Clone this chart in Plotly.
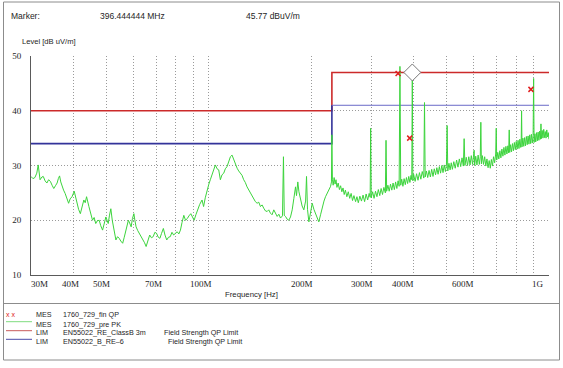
import math
import plotly.graph_objects as go

# ---------------- data ----------------
marker_freq_mhz = 396.444444
marker_level_db = 45.77
marker_diamond_level_db = 47.0

# final QP measurements (red x)
qp_freq_mhz = [360.0, 389.5, 885.0]
qp_level_db = [46.8, 35.0, 43.9]

# limit lines
limit_freq_mhz = [30, 230, 230, 1000]
limit_classb_db = [40, 40, 47, 47]
limit_b6_low_freq_mhz = [30, 230, 230]
limit_b6_low_db = [34, 34, 41]
limit_b6_high_freq_mhz = [230, 1000]
limit_b6_high_db = [41, 41]

# axis ticks / grid
grid_freq_mhz = [30, 40, 50, 60, 70, 80, 90, 100, 200, 300, 400, 500, 600, 700, 800, 900, 1000]
tick_freq_mhz = [30, 40, 50, 70, 100, 200, 300, 400, 600, 1000]
tick_text = ["30M", "40M", "50M", "70M", "100M", "200M", "300M", "400M", "600M", "1G"]
level_ticks_db = [10, 20, 30, 40, 50]

# peak scan (MHz, dBuV/m) 30 - 230 MHz
pk_scan_low = [
    (30.0, 28.0), (30.4, 27.6), (30.8, 27.8), (31.2, 28.6), (31.5, 30.1), (31.9, 27.4),
    (32.3, 27.9), (32.6, 28.0), (33.0, 27.2), (33.4, 26.8), (33.8, 27.4), (34.2, 27.1),
    (34.6, 26.4), (35.0, 25.8), (35.4, 26.3), (35.8, 26.8), (36.1, 27.6), (36.4, 28.1),
    (36.7, 27.0), (37.0, 26.2), (37.4, 25.5), (37.8, 24.9), (38.2, 24.0), (38.7, 23.1),
    (39.1, 23.9), (39.6, 24.3), (40.2, 25.3), (40.6, 24.0), (41.0, 22.8), (41.4, 22.0),
    (41.9, 21.2), (42.4, 22.6), (42.9, 23.7), (43.3, 23.2), (43.7, 24.3), (44.4, 22.5),
    (45.0, 21.3), (45.5, 20.0), (46.0, 20.5), (46.5, 19.4), (47.0, 19.9), (47.6, 20.0),
    (48.1, 19.0), (48.7, 18.2), (49.2, 19.3), (49.8, 20.6), (50.2, 20.0), (50.6, 19.4),
    (51.0, 20.8), (51.5, 22.1), (52.0, 20.0), (52.5, 18.8), (52.9, 17.4), (53.3, 16.4),
    (53.9, 17.0), (54.5, 16.7), (55.1, 16.2), (55.8, 15.8), (56.4, 16.9), (57.1, 18.2),
    (57.5, 19.4), (58.0, 20.0), (58.5, 19.5), (59.1, 18.8), (59.6, 20.3), (60.2, 21.2),
    (60.6, 20.0), (61.1, 18.8), (61.8, 18.1), (62.5, 17.6), (63.2, 17.0), (64.0, 16.4),
    (64.7, 15.9), (65.4, 15.2), (66.2, 16.3), (67.0, 17.3), (67.8, 16.8), (68.6, 17.0),
    (69.4, 17.8), (70.2, 17.6), (71.0, 16.9), (71.8, 16.7), (72.6, 17.6), (73.5, 18.5),
    (74.3, 17.3), (75.2, 16.4), (76.1, 16.9), (77.0, 17.0), (77.9, 17.8), (78.8, 17.3),
    (79.7, 17.6), (80.7, 17.9), (81.6, 17.5), (82.5, 18.2), (83.4, 19.6), (84.4, 20.9),
    (85.4, 20.0), (86.4, 20.3), (87.4, 20.8), (88.5, 21.2), (89.5, 20.6), (90.5, 20.0),
    (91.6, 21.0), (92.7, 22.1), (94.0, 22.9), (95.5, 23.7), (96.5, 22.5), (97.6, 24.1),
    (98.8, 25.5), (100.0, 26.6), (101.0, 27.4), (102.7, 28.6), (104.5, 30.1), (105.7, 29.4),
    (106.9, 29.2), (108.1, 27.4), (109.3, 28.3), (110.6, 28.6), (111.8, 29.4), (113.1, 29.8),
    (114.4, 30.8), (115.7, 31.6), (117.0, 31.9), (118.3, 31.0), (119.7, 30.4), (121.1, 29.5),
    (122.4, 29.0), (123.8, 28.6), (125.2, 28.2), (126.6, 27.4), (128.0, 26.9), (129.5, 26.1),
    (131.0, 25.5), (132.5, 24.9), (134.0, 24.3), (135.5, 24.0), (137.0, 23.4), (138.6, 23.1),
    (140.2, 23.3), (141.8, 22.5), (143.4, 22.8), (145.0, 22.2), (146.7, 21.7), (148.4, 21.6),
    (150.0, 21.9), (151.7, 21.3), (153.4, 21.0), (155.2, 21.9), (157.0, 21.2), (158.8, 20.7),
    (160.6, 21.1), (162.4, 20.4), (164.6, 20.8), (165.7, 31.6), (166.6, 20.9), (168.0, 20.7),
    (169.9, 20.2), (171.8, 20.0), (173.8, 20.6), (175.8, 21.9), (177.8, 24.0), (179.8, 26.1),
    (181.0, 24.5), (182.6, 27.0), (184.0, 25.2), (186.0, 23.7), (188.0, 22.6), (190.2, 21.9),
    (192.5, 23.5), (193.7, 28.0), (195.0, 22.0), (196.8, 19.7), (199.0, 21.5), (201.3, 23.1),
    (203.6, 22.0), (205.9, 21.3), (208.2, 20.4), (210.5, 19.7), (213.0, 21.0), (215.5, 22.5),
    (218.0, 23.5), (220.3, 24.3), (222.8, 25.0), (225.3, 25.5), (228.0, 26.2), (229.3, 27.0),
    (230.0, 35.6),
]

# peak scan (MHz, dBuV/m) 230 - 1000 MHz
pk_scan_high = [
    (230.8, 27.5), (232.0, 26.4), (233.5, 27.8), (235.0, 26.6), (236.5, 27.4), (238.0, 26.0),
    (240.0, 26.8), (242.0, 25.6), (244.0, 26.3), (246.0, 25.2), (248.0, 25.9), (250.0, 24.7),
    (252.0, 25.5), (254.5, 24.3), (257.0, 25.2), (259.5, 24.0), (262.0, 24.9), (264.5, 23.6),
    (267.0, 24.5), (270.0, 23.4), (272.5, 24.3), (275.0, 23.2), (278.0, 24.4), (281.0, 23.5),
    (284.0, 24.6), (287.0, 23.4), (290.0, 24.8), (293.0, 23.7), (296.0, 24.9), (298.0, 24.2),
    (299.0, 36.8), (300.2, 24.1), (303.0, 25.2), (306.0, 24.0), (309.0, 25.3), (312.0, 24.3),
    (315.0, 25.6), (318.0, 24.5), (321.0, 25.8), (324.0, 24.7), (327.0, 26.0), (330.3, 25.0),
    (331.8, 34.6), (333.2, 25.3), (336.0, 26.4), (339.0, 25.3), (342.0, 26.6), (345.0, 25.5),
    (348.0, 26.8), (351.0, 25.6), (354.0, 27.0), (357.0, 25.8), (360.0, 27.2), (362.6, 26.2),
    (364.6, 48.1), (366.5, 26.4), (369.0, 27.5), (372.0, 26.2), (375.0, 27.6), (378.0, 26.5),
    (381.0, 27.8), (384.0, 26.7), (387.0, 28.0), (390.0, 26.9), (393.0, 28.2), (395.0, 27.4),
    (396.4, 46.6), (397.8, 27.2), (400.0, 28.4), (404.0, 27.1), (408.0, 28.5), (412.0, 27.3),
    (416.0, 28.7), (420.0, 27.5), (424.0, 28.9), (428.5, 27.7), (430.5, 41.5), (432.5, 27.9),
    (436.0, 29.0), (440.0, 27.8), (444.0, 29.1), (448.0, 27.9), (452.0, 29.3), (456.0, 28.0),
    (460.0, 29.4), (464.0, 28.3), (468.0, 29.6), (472.0, 28.4), (476.0, 29.8), (480.0, 28.6),
    (484.0, 30.0), (488.0, 28.7), (492.0, 30.1), (496.0, 28.9), (499.5, 30.2), (501.8, 37.3),
    (504.0, 29.0), (508.0, 30.4), (512.0, 29.2), (516.0, 30.5), (520.0, 29.3), (525.0, 30.7),
    (530.0, 29.5), (535.0, 31.0), (540.0, 29.7), (545.0, 31.2), (550.0, 29.8), (555.0, 31.4),
    (560.0, 29.9), (563.0, 34.9), (566.0, 30.0), (571.0, 31.5), (576.0, 30.0), (581.0, 31.6),
    (586.0, 30.1), (591.0, 31.8), (596.0, 30.2), (600.3, 31.6), (602.4, 32.8), (604.5, 30.0),
    (609.0, 31.7), (614.0, 30.1), (619.0, 31.9), (624.0, 30.2), (628.0, 31.6), (630.4, 37.9),
    (632.8, 30.3), (637.0, 31.8), (642.0, 30.2), (647.0, 31.6), (652.0, 29.9), (657.0, 31.2),
    (662.0, 29.6), (667.0, 30.9), (672.0, 29.5), (677.0, 31.1), (682.0, 29.9), (687.0, 31.6),
    (692.0, 30.5), (697.0, 32.1), (699.6, 36.8), (702.0, 31.0), (707.0, 32.4), (712.0, 31.2),
    (717.0, 32.7), (722.0, 31.4), (727.0, 33.0), (732.0, 31.7), (737.0, 33.3), (742.0, 31.9),
    (747.0, 33.5), (752.0, 32.1), (757.0, 33.6), (761.0, 32.3), (763.9, 36.5), (766.5, 32.4),
    (771.0, 33.8), (776.0, 32.5), (781.0, 34.0), (786.0, 32.7), (791.0, 34.2), (796.0, 32.9),
    (801.0, 34.4), (806.0, 33.0), (811.0, 34.6), (816.0, 33.1), (821.0, 34.8), (826.0, 33.3),
    (828.5, 34.5), (830.6, 40.0), (833.0, 33.4), (838.0, 35.0), (843.0, 33.5), (848.0, 35.1),
    (853.0, 33.6), (858.0, 35.3), (863.0, 33.8), (868.0, 35.4), (873.0, 33.9), (878.0, 35.6),
    (883.0, 34.0), (888.0, 35.7), (893.0, 34.1), (898.0, 35.5), (901.2, 45.9), (904.0, 34.2),
    (909.0, 35.8), (914.0, 34.3), (919.0, 36.0), (924.0, 34.5), (929.0, 36.1), (934.0, 34.6),
    (939.0, 36.3), (944.0, 34.8), (947.0, 37.6), (950.0, 34.9), (955.0, 36.4), (960.0, 35.0),
    (965.0, 36.6), (970.0, 35.1), (975.0, 36.2), (980.0, 35.0), (985.0, 36.5), (990.0, 35.2),
    (995.0, 36.0), (1000.0, 34.8),
]

legend_rows = [
    ("MES", "1760_729_fin QP", ""),
    ("MES", "1760_729_pre PK", ""),
    ("LIM", "EN55022_RE_ClassB 3m", "Field Strength QP Limit"),
    ("LIM", "EN55022_B_RE\u20136", "Field Strength QP Limit"),
]

# ---------------- style ----------------
W, H = 563, 368
ML, MR, MT, MB = 31, 14, 56, 93
PW, PH = W - ML - MR, H - MT - MB
GREEN = "rgb(60,212,60)"
RED = "#cc2a2a"
BLUE = "#33339a"
BLUE_LIGHT = "#6a6ac8"
TXT = "#1e1e1e"
SANS = "Liberation Sans, Arial, sans-serif"
SERIF = "Liberation Serif, Times New Roman, serif"


def px(x):
    return (x - ML) / PW


def py(y):
    return (MT + PH - y) / PH


pk_all = pk_scan_low + pk_scan_high
pk_freq = [p[0] for p in pk_all]
pk_level = [p[1] for p in pk_all]

fig = go.Figure()
fig.add_trace(go.Scatter(x=limit_freq_mhz, y=limit_classb_db, mode="lines",
                         line=dict(color=RED, width=1.6), hoverinfo="skip"))
fig.add_trace(go.Scatter(x=limit_b6_low_freq_mhz, y=limit_b6_low_db, mode="lines",
                         line=dict(color=BLUE, width=1.6), hoverinfo="skip"))
fig.add_trace(go.Scatter(x=limit_b6_high_freq_mhz, y=limit_b6_high_db, mode="lines",
                         line=dict(color=BLUE_LIGHT, width=1), hoverinfo="skip"))
fig.add_trace(go.Scatter(x=pk_freq, y=pk_level, mode="lines",
                         line=dict(color=GREEN, width=1)))
fig.add_trace(go.Scatter(x=qp_freq_mhz, y=qp_level_db, mode="markers",
                         marker=dict(symbol="x-thin", size=5,
                                     line=dict(color="#e02020", width=1.5))))
fig.add_trace(go.Scatter(x=[marker_freq_mhz], y=[marker_diamond_level_db], mode="markers",
                         marker=dict(symbol="diamond", size=13, color="white",
                                     line=dict(color="#7a7a7a", width=1))))

grid_common = dict(showgrid=True, gridcolor="#9a9a9a", gridwidth=1, griddash="1px,2px",
                   zeroline=False, ticks="", showline=True, linecolor="#5a5a5a", linewidth=1)

fig.update_xaxes(type="log", range=[math.log10(30), math.log10(1000)],
                 tickmode="array", tickvals=grid_freq_mhz, showticklabels=False,
                 **grid_common)
fig.update_yaxes(range=[10, 50], tickmode="array", tickvals=level_ticks_db,
                 ticktext=[str(v) for v in level_ticks_db],
                 tickfont=dict(family=SERIF, size=9, color=TXT),
                 ticklabelstandoff=7, **grid_common)

annotations = []


def add_text(x, y, text, size=8, family=SANS, xanchor="left", color=TXT, xref="paper", xshift=0):
    annotations.append(dict(x=x, y=py(y), xref=xref, yref="paper", text=text,
                            showarrow=False, xanchor=xanchor, yanchor="middle",
                            font=dict(family=family, size=size, color=color),
                            xshift=xshift, borderpad=0))


# header
add_text(px(10), 16, "Marker:", size=8.5)
add_text(px(99), 16, f"{marker_freq_mhz:.6f} MHz", size=8.5)
add_text(px(245), 16, f"{marker_level_db:.2f} dBuV/m", size=8.5)
add_text(px(20.5), 42, "Level [dB uV/m]", size=7.6)

# x tick labels (R&S style, nudged left of the grid line)
xlabel_nudge_px = [8.5, -3, -4.5, -3, -7.5, -9, -9, -11, -11, -11]
for f, t, dx in zip(tick_freq_mhz, tick_text, xlabel_nudge_px):
    add_text(math.log10(f), 284.3, t, size=9, family=SERIF, xanchor="center", xref="x", xshift=dx)

add_text(px(251), 294.3, "Frequency [Hz]", size=7.8, xanchor="center")

# legend
row_y = [314.0, 324.0, 332.5, 341.0]
third_x = [None, None, 163, 167]
add_text(px(4.5), row_y[0], "x x", size=7, color="#e02020")
for (kind, name, desc), y, tx in zip(legend_rows, row_y, third_x):
    add_text(px(35), y, kind, size=7.2)
    add_text(px(62), y, name, size=7.2)
    if desc:
        add_text(px(tx), y, desc, size=7.2)

shapes = []
frame_col = "#8c8c8c"
shapes.append(dict(type="rect", xref="paper", yref="paper", x0=px(3.5), x1=px(559.5),
                   y0=py(360), y1=py(2), line=dict(color=frame_col, width=1)))
shapes.append(dict(type="line", xref="paper", yref="paper", x0=px(3.5), x1=px(559.5),
                   y0=py(303.5), y1=py(303.5), line=dict(color=frame_col, width=1)))
for y, col in [(321.7, "#7fdc7f"), (330.7, "#c85a5a"), (339.3, "#4a4aa8")]:
    shapes.append(dict(type="line", xref="paper", yref="paper", x0=px(6), x1=px(32),
                       y0=py(y), y1=py(y), line=dict(color=col, width=1)))

fig.update_layout(width=W, height=H, margin=dict(l=ML, r=MR, t=MT, b=MB),
                  paper_bgcolor="white", plot_bgcolor="white", showlegend=False,
                  annotations=annotations, shapes=shapes)

fig.write_html("out.html", config={"displayModeBar": False},
               post_script="document.body.style.margin='0';document.body.style.overflow='hidden';")
